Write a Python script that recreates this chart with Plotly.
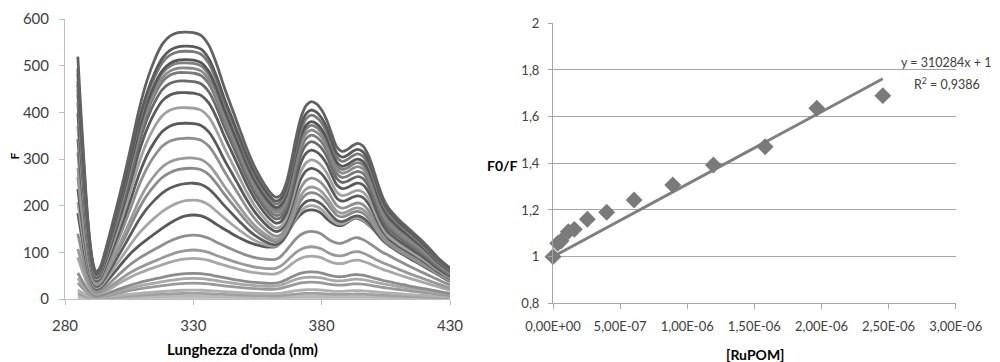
import plotly.graph_objects as go

# ---------------- Left panel: emission spectra ----------------
wavelength = [285, 286, 287, 288, 289, 290, 291, 292, 293, 294, 295, 297, 300, 303, 306, 309,
              312, 315, 318, 321, 324, 327, 330, 333, 336, 339, 342, 345, 348, 351, 354, 357,
              360, 362, 364, 366, 368, 370, 372, 374, 376, 378, 380, 382, 384, 386, 388, 390,
              392, 394, 396, 398, 400, 402, 404, 406, 408, 410, 413, 416, 419, 422, 425, 428, 430]

# uppermost spectrum
top_spectrum = [520, 420, 330, 240, 165, 110, 75, 60, 62, 72, 90, 130, 195, 262, 335, 410,
                470, 515, 548, 565, 572, 573, 572, 566, 545, 505, 455, 410, 365, 320, 282, 252,
                228, 218, 222, 245, 290, 345, 390, 415, 423, 418, 405, 383, 352, 325, 316, 320,
                328, 333, 328, 310, 280, 245, 215, 195, 182, 170, 155, 140, 125, 108, 90, 75, 66]

# dark spectrum peaking at ~180 (shape typical of the lower, quenched spectra)
low_spectrum = [184, 150, 118, 88, 62, 42, 28, 22, 22, 25, 30, 42, 62, 82, 100, 115,
                128, 140, 152, 163, 172, 178, 180, 178, 171, 160, 150, 140, 131, 123, 117, 113,
                111, 112, 120, 135, 153, 170, 182, 189, 191, 189, 183, 172, 163, 158, 158, 164,
                171, 173, 168, 160, 150, 140, 131, 124, 116, 108, 97, 86, 76, 66, 56, 46, 40]

# per-spectrum heights read at the 330 nm and 377 nm maxima (top to bottom)
peak_330 = [571, 541, 530, 512, 505, 494, 484, 466, 441, 409, 376, 344, 302, 280, 248, 212,
            180, 137, 105, 87, 55, 44, 34, 19, 12, 6, 2]
peak_377 = [423, 405, 394, 380, 372, 362, 351, 337, 319, 298, 280, 259, 240, 228, 212, 200,
            191, 145, 112, 92, 58, 47, 36, 20, 12, 6, 2]
line_colors = ["#626262", "#5a5a5a", "#7a7a7a", "#555555", "#7f7f7f", "#8a8a8a", "#7a7a7a",
               "#6a6a6a", "#5a5a5a", "#a0a0a0", "#595959", "#8f8f8f", "#9a9a9a", "#8a8a8a",
               "#5c5c5c", "#a6a6a6", "#595959", "#8f8f8f", "#999999", "#a8a8a8", "#8c8c8c",
               "#a8a8a8", "#999999", "#b0b0b0", "#a0a0a0", "#b8b8b8", "#c4c4c4"]

x_ticks_left = [280, 330, 380, 430]
y_ticks_left = [0, 100, 200, 300, 400, 500, 600]

# ---------------- Right panel: Stern-Volmer ----------------
ru_pom = [0, 3.5e-8, 6.0e-8, 1.14e-7, 1.59e-7, 2.56e-7, 4.0e-7, 6.04e-7, 8.92e-7,
          1.195e-6, 1.58e-6, 1.965e-6, 2.457e-6]
f0_f = [1.0, 1.057, 1.067, 1.107, 1.117, 1.16, 1.19, 1.243, 1.307, 1.393, 1.471, 1.636, 1.69]
fit_slope = 310284
fit_intercept = 1
x_ticks_right = [0, 5e-7, 1e-6, 1.5e-6, 2e-6, 2.5e-6, 3e-6]
x_labels_right = ["0,00E+00", "5,00E-07", "1,00E-06", "1,50E-06", "2,00E-06", "2,50E-06", "3,00E-06"]
y_ticks_right = [0.8, 1.0, 1.2, 1.4, 1.6, 1.8, 2.0]
y_labels_right = ["0,8", "1", "1,2", "1,4", "1,6", "1,8", "2"]

FONT = "Lato, 'Open Sans', sans-serif"

# page has an 8px body margin: figure coords = page coords - 8
W, H, OFF = 992, 354, 8


def px(xp):
    return (xp - OFF) / W


def py(yp):
    return 1 - (yp - OFF) / H


# each spectrum = mix of the two read shapes matching its 330 / 377 nm heights
i330 = wavelength.index(330)
i377 = wavelength.index(376)
t1, t2 = top_spectrum[i330], top_spectrum[i377]
l1, l2 = low_spectrum[i330], low_spectrum[i377]
det = t1 * l2 - l1 * t2

fig = go.Figure()
for i in reversed(range(len(peak_330))):
    p1, p2 = peak_330[i], peak_377[i]
    alpha = (p1 * l2 - l1 * p2) / det
    beta = (t1 * p2 - t2 * p1) / det
    ys = [alpha * t + beta * l for t, l in zip(top_spectrum, low_spectrum)]
    fig.add_trace(go.Scatter(x=wavelength, y=ys, mode="lines",
                             line=dict(color=line_colors[i], width=2.8, shape="spline"),
                             xaxis="x", yaxis="y", hoverinfo="skip"))

fit_x = [0, max(ru_pom)]
fit_y = [fit_intercept + fit_slope * v for v in fit_x]
fig.add_trace(go.Scatter(x=fit_x, y=fit_y, mode="lines", cliponaxis=False,
                         line=dict(color="#7f7f7f", width=3), xaxis="x2", yaxis="y2"))
fig.add_trace(go.Scatter(x=ru_pom, y=f0_f, mode="markers", cliponaxis=False,
                         marker=dict(symbol="diamond", size=13, color="#7a7a7a"),
                         xaxis="x2", yaxis="y2"))

left_font = dict(family=FONT, size=15, color="#404040")
right_font = dict(family=FONT, size=13, color="#404040")

fig.update_layout(
    template="none",
    width=W, height=H, margin=dict(l=0, r=0, t=0, b=0, autoexpand=False),
    paper_bgcolor="white", plot_bgcolor="white", showlegend=False,
    font=dict(family=FONT),
    xaxis=dict(domain=[px(65), px(450)], range=[280, 430], tickvals=x_ticks_left,
               linecolor="#bfbfbf", tickcolor="#bfbfbf", ticklen=5, anchor="y",
               showline=True, ticks="outside", zeroline=False, showgrid=False,
               automargin=False, tickfont=left_font, ticklabelstandoff=8),
    yaxis=dict(domain=[py(299), py(19)], range=[0, 600], tickvals=y_ticks_left,
               linecolor="#bfbfbf", tickcolor="#bfbfbf", ticklen=5, anchor="x",
               showline=True, ticks="outside", zeroline=False, showgrid=False,
               automargin=False, tickfont=left_font, ticklabelstandoff=7),
    xaxis2=dict(domain=[px(553), px(955.7)], range=[0, 3e-6], tickvals=x_ticks_right,
                ticktext=x_labels_right, linecolor="#a6a6a6", tickcolor="#a6a6a6", ticklen=5,
                anchor="y2", showline=True, ticks="outside", zeroline=False, showgrid=False,
                automargin=False, tickfont=right_font, ticklabelstandoff=6),
    yaxis2=dict(domain=[py(303.3), py(23.3)], range=[0.8, 2.0], tickvals=y_ticks_right,
                ticktext=y_labels_right, linecolor="#a6a6a6", tickcolor="#a6a6a6", ticklen=4,
                anchor="x2", showline=True, ticks="outside", zeroline=False, showgrid=True,
                gridcolor="#a6a6a6", gridwidth=1, automargin=False, tickfont=right_font,
                ticklabelstandoff=6),
)

ann = dict(xref="paper", yref="paper", showarrow=False, yanchor="middle")
fig.add_annotation(text="<b>F</b>", x=px(14.5), y=py(156), textangle=-90, xanchor="center",
                   font=dict(family=FONT, size=12, color="#000"), **ann)
fig.add_annotation(text="<b>Lunghezza d'onda (nm)</b>", x=px(242.5), y=py(349), xanchor="center",
                   font=dict(family=FONT, size=15, color="#000"), **ann)
fig.add_annotation(text="<b>F0/F</b>", x=px(502.5), y=py(165), xanchor="center",
                   font=dict(family=FONT, size=14, color="#000"), **ann)
fig.add_annotation(text="<b>[RuPOM]</b>", x=px(755), y=py(354), xanchor="center",
                   font=dict(family=FONT, size=14, color="#000"), **ann)
fig.add_annotation(text="y = 310284x + 1", x=px(993.3), y=py(63), xanchor="right",
                   font=dict(family=FONT, size=12.5, color="#404040"), **ann)
fig.add_annotation(text="R<sup>2</sup> = 0,9386", x=px(946.7), y=py(83), xanchor="center",
                   font=dict(family=FONT, size=12.5, color="#404040"), **ann)

fig.write_html("out.html")
